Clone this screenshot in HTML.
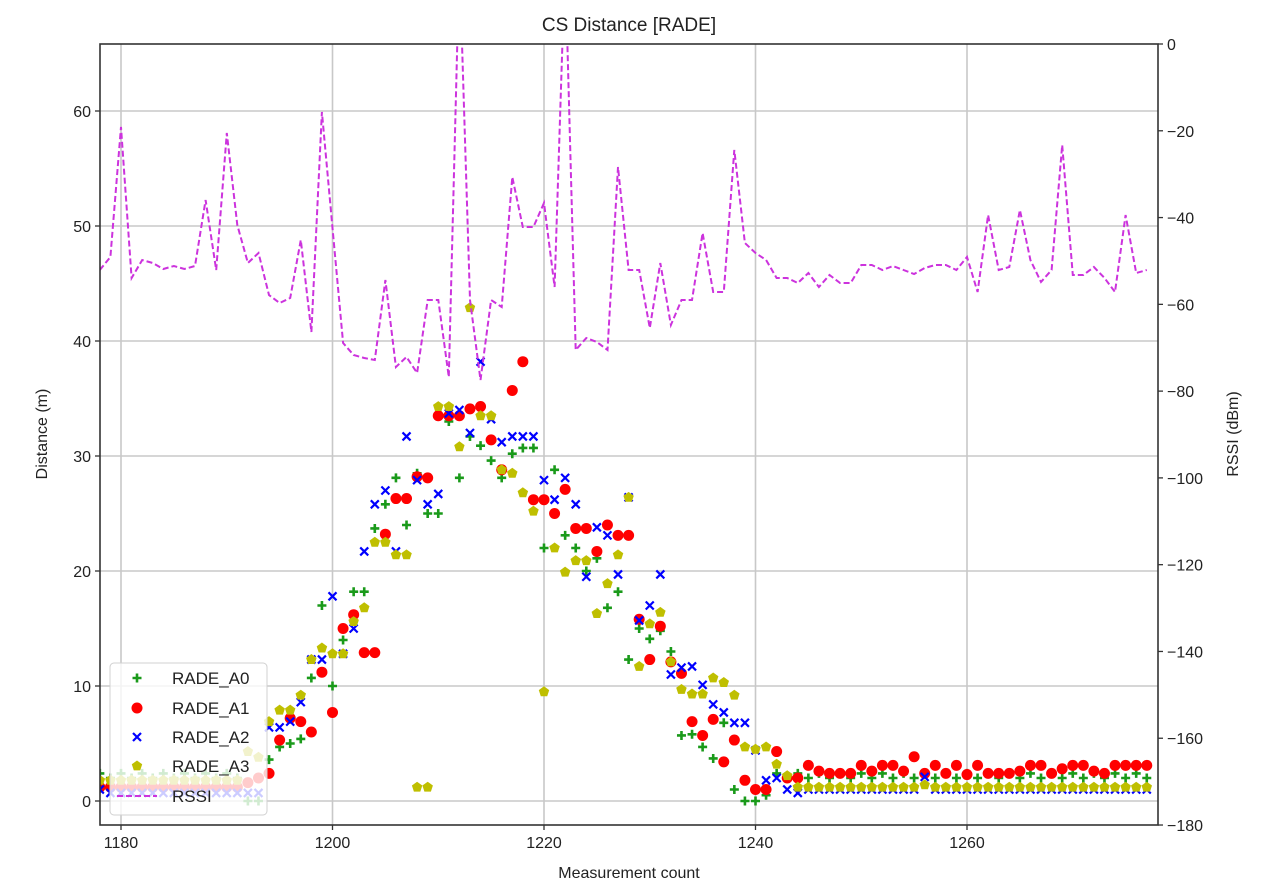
<!DOCTYPE html>
<html><head><meta charset="utf-8">
<style>
html,body{margin:0;padding:0;background:#fff;}
svg{display:block;font-family:"Liberation Sans","DejaVu Sans",sans-serif;}
</style></head>
<body>
<svg id="s" width="1280" height="883" viewBox="0 0 1280 883" xmlns="http://www.w3.org/2000/svg"></svg>
<script>
const L=100,R=1158,T=44,B=825;
const X=i=>121+(i-1180)*10.575;
const Y=d=>801-d*11.5;
const YR=v=>44-v*4.339;
let h='';
h+=`<defs><clipPath id="c"><rect x="${L}" y="${T}" width="${R-L}" height="${B-T}"/></clipPath></defs>`;
h+=`<rect x="${L}" y="${T}" width="${R-L}" height="${B-T}" fill="#fff"/>`;
// grid
for(let v=1180;v<=1260;v+=20){h+=`<line x1="${X(v)}" y1="${T}" x2="${X(v)}" y2="${B}" stroke="#c8c8c8" stroke-width="1.6"/>`;
h+=`<line x1="${X(v)}" y1="${B}" x2="${X(v)}" y2="${B+5}" stroke="#333" stroke-width="1.3"/>`;
h+=`<text x="${X(v)}" y="${B+23}" font-size="16" text-anchor="middle" fill="#222">${v}</text>`;}
for(let v=0;v<=60;v+=10){h+=`<line x1="${L}" y1="${Y(v)}" x2="${R}" y2="${Y(v)}" stroke="#c8c8c8" stroke-width="1.6"/>`;
h+=`<line x1="${L-5}" y1="${Y(v)}" x2="${L}" y2="${Y(v)}" stroke="#333" stroke-width="1.3"/>`;
h+=`<text x="${L-9}" y="${Y(v)+6}" font-size="16" text-anchor="end" fill="#222">${v}</text>`;}
for(let v=0;v>=-180;v-=20){h+=`<line x1="${R}" y1="${YR(v)}" x2="${R+5}" y2="${YR(v)}" stroke="#333" stroke-width="1.3"/>`;
h+=`<text x="${R+9}" y="${YR(v)+6}" font-size="16" fill="#222">${v==0?'0':'\u2212'+(-v)}</text>`;}
// data
const idx=[];for(let i=1178;i<=1277;i++)idx.push(i);
function fill(obj,def){return idx.map(i=>obj[i]!==undefined?obj[i]:def(i));}
function seq(start,arr){const o={};arr.forEach((v,k)=>o[start+k]=v);return o;}
const a0=fill(Object.assign(seq(1192,[0,0,3.6,4.7,5.0,5.4,10.7,17,10,14,18.2,18.2,23.7,25.8,28.1,24,28.5,25,25,33,28.1,31.7,30.9,29.6,28.1,30.2,30.7,30.7,22,28.8,23.1,22,20,21.1,16.8,18.2,12.3,15,14.1,14.8,13,5.7,5.8,4.7,3.7,6.8,1.0,0,0,0.5,2.4,2.0])),i=>i%2?2.0:2.4);
const tail1=[3.1,2.6,2.4,2.4,2.4,3.1,2.6,3.1,3.1,2.6,3.85,2.4,3.1,2.4,3.1,2.3,3.1,2.4,2.4,2.4,2.6,3.1,3.1,2.4,2.8,3.1,3.1,2.6,2.4,3.1,3.1,3.1,3.1];
const a1=fill(Object.assign(seq(1192,[1.6,2.0,2.4,5.3,7.2,6.9,6.0,11.2,7.7,15,16.2,12.9,12.9,23.2,26.3,26.3,28.2,28.1,33.5,33.5,33.5,34.1,34.3,31.4,28.8,35.7,38.2,26.2,26.2,25,27.1,23.7,23.7,21.7,24,23.1,23.1,15.8,12.3,15.2,12.1,11.1,6.9,5.7,7.1,3.4,5.3,1.8,1.0,1.0,4.3,2.0,2.0]),seq(1245,tail1)),i=>1.2);
const a2=fill(Object.assign(seq(1194,[6.4,6.4,6.9,8.6,12.3,12.3,17.8,12.8,15,21.7,25.8,27,21.7,31.7,27.9,25.8,26.7,33.7,34.0,32,38.2,33.2,31.2,31.7,31.7,31.7,27.9,26.2,28.1,25.8,19.5,23.8,23.1,19.7,26.4,15.7,17,19.7,11,11.6,11.7,10.1,8.4,7.7,6.8,6.8,4.4,1.8,2.0,1.0,0.7]),{1256:2.1,1178:1.0}),i=>i<1194?0.7:1.0);
const a3=fill(Object.assign(seq(1192,[4.3,3.8,6.9,7.9,7.9,9.2,12.3,13.3,12.8,12.8,15.6,16.8,22.5,22.5,21.4,21.4,1.2,1.2,34.3,34.3,30.8,42.9,33.5,33.5,28.8,28.5,26.8,25.2,9.5,22,19.9,20.9,20.9,16.3,18.9,21.4,26.4,11.7,15.4,16.4,12.1,9.7,9.3,9.3,10.7,10.3,9.2,4.7,4.5,4.7,3.2,2.2]),{1256:1.4}),i=>i<1192?1.8:1.2);
const rssiPx=[270,257,127,278,260,263,269,266,269,266,200,270,133,225,263,253,295,303,298,240,332,112,228,343,355,358,360,280,367,357,373,300,300,377,-40,300,380,300,307,177,227,227,203,287,-40,350,338,342,350,167,270,270,328,263,325,300,300,233,292,292,150,243,253,260,278,278,283,273,287,275,283,283,265,265,270,266,270,274,268,265,265,270,257,292,215,270,267,210,260,282,270,145,275,275,267,278,292,215,273,270];
function plus(x,y,c){return `<path d="M${x-4.5} ${y}H${x+4.5}M${x} ${y-4.5}V${y+4.5}" stroke="${c}" stroke-width="2.6"/>`;}
function cross(x,y,c){return `<path d="M${x-4} ${y-4}L${x+4} ${y+4}M${x-4} ${y+4}L${x+4} ${y-4}" stroke="${c}" stroke-width="2.2"/>`;}
function circ(x,y,c){return `<circle cx="${x}" cy="${y}" r="5.5" fill="${c}"/>`;}
function pent(x,y,c){let p=[];for(let k=0;k<5;k++){const a=-Math.PI/2+k*2*Math.PI/5;p.push((x+5.5*Math.cos(a)).toFixed(1)+','+(y+5.5*Math.sin(a)).toFixed(1));}return `<polygon points="${p.join(' ')}" fill="${c}"/>`;}
let g='<g clip-path="url(#c)">';
idx.forEach((i,k)=>g+=plus(X(i),Y(a0[k]),'#1a9a1a'));
idx.forEach((i,k)=>g+=circ(X(i),Y(a1[k]),'#ff0000'));
idx.forEach((i,k)=>g+=cross(X(i),Y(a2[k]),'#0000ff'));
idx.forEach((i,k)=>g+=pent(X(i),Y(a3[k]),'#bfbf00'));
g+=`<polyline fill="none" stroke="#cc33dd" stroke-width="2" stroke-dasharray="6,3" points="${idx.map((i,k)=>X(i).toFixed(1)+','+rssiPx[k]).join(' ')}"/>`;
g+='</g>';
h+=g;
h+=`<rect x="${L}" y="${T}" width="${R-L}" height="${B-T}" fill="none" stroke="#333" stroke-width="1.6"/>`;
// legend
h+=`<rect x="110" y="663" width="157" height="152" rx="4" fill="rgba(255,255,255,0.8)" stroke="#d0d0d0" stroke-width="1"/>`;
const ly=[678,708,737,766,796];
h+=plus(137,ly[0],'#1a9a1a')+circ(137,ly[1],'#ff0000')+cross(137,ly[2],'#0000ff')+pent(137,ly[3],'#bfbf00');
h+=`<line x1="117" y1="${ly[4]}" x2="157" y2="${ly[4]}" stroke="#cc33dd" stroke-width="2" stroke-dasharray="6,3"/>`;
['RADE_A0','RADE_A1','RADE_A2','RADE_A3','RSSI'].forEach((t,k)=>h+=`<text x="172" y="${ly[k]+6}" font-size="17" fill="#222">${t}</text>`);
// titles
h+=`<text x="629" y="31" font-size="19" text-anchor="middle" fill="#222">CS Distance [RADE]</text>`;
h+=`<text x="629" y="878" font-size="16" text-anchor="middle" fill="#222">Measurement count</text>`;
h+=`<text transform="translate(47,434) rotate(-90)" font-size="16" text-anchor="middle" fill="#222">Distance (m)</text>`;
h+=`<text transform="translate(1238,434) rotate(-90)" font-size="16" text-anchor="middle" fill="#222">RSSI (dBm)</text>`;
document.getElementById('s').innerHTML=h;
</script>
</body></html>
